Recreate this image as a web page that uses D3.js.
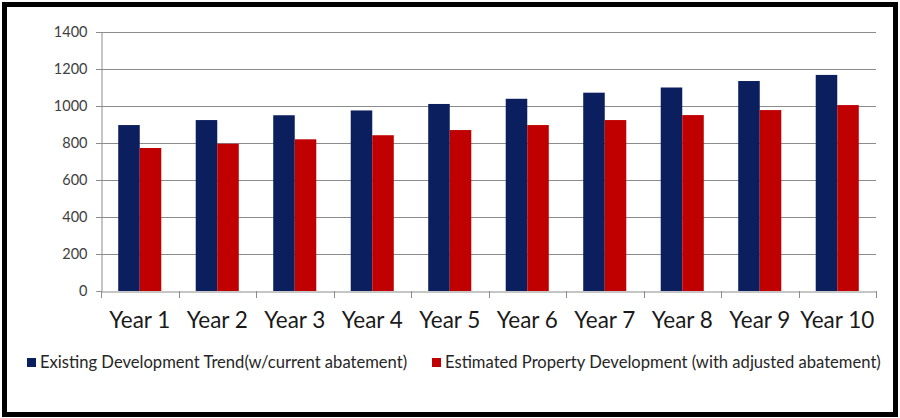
<!DOCTYPE html>
<html lang="en">
<head>
    <meta charset="UTF-8">
    <title>Development Trend</title>
    <script src="https://d3js.org/d3.v7.min.js"></script>
    <style>
        body { margin: 0; background: #fff; }
        text { font-family: Lato, "Open Sans", sans-serif; }
    </style>
</head>
<body>
    <div id="chart"></div>
    <script>
        // Chart data
        const years = ['Year 1', 'Year 2', 'Year 3', 'Year 4', 'Year 5',
                       'Year 6', 'Year 7', 'Year 8', 'Year 9', 'Year 10'];
        const existingTrend = [897, 924, 950, 976, 1011, 1039, 1072, 1100, 1135, 1168];
        const estimatedDev = [773, 796, 820, 842, 870, 897, 924, 951, 978, 1005];
        const seriesNames = ['Existing Development Trend(w/current abatement)',
                             'Estimated Property Development (with adjusted abatement)'];
        const yTicks = [0, 200, 400, 600, 800, 1000, 1200, 1400];

        const width = 900, height = 418;
        const colors = ['#0b1f5f', '#c00000'];

        const svg = d3.select('#chart').append('svg')
            .attr('width', width)
            .attr('height', height);

        // black frame round the whole chart
        svg.append('rect')
            .attr('x', 4.5).attr('y', 4.5)
            .attr('width', 891).attr('height', 410)
            .attr('fill', '#fff')
            .attr('stroke', '#000')
            .attr('stroke-width', 5);

        const plot = { left: 101, right: 876, top: 32, bottom: 291 };

        const x = d3.scaleBand()
            .domain(years)
            .range([plot.left, plot.right]);

        const inner = d3.scaleBand()
            .domain([0, 1])
            .range([0, x.bandwidth()])
            .paddingInner(0)
            .paddingOuter(0.8);

        const y = d3.scaleLinear()
            .domain([0, 1400])
            .range([plot.bottom, plot.top]);

        // gridlines
        svg.append('g')
            .selectAll('line')
            .data(yTicks.filter(d => d > 0))
            .enter().append('line')
            .attr('x1', plot.left - 5).attr('x2', plot.right)
            .attr('y1', d => Math.round(y(d)) + 0.5)
            .attr('y2', d => Math.round(y(d)) + 0.5)
            .attr('stroke', '#8c8c8c')
            .attr('stroke-width', 1);

        // y axis
        const yAxis = svg.append('g')
            .attr('transform', `translate(${plot.left + 0.5},0)`)
            .call(d3.axisLeft(y).tickValues(yTicks).tickFormat(d3.format('d'))
                .tickSize(5).tickPadding(9));
        yAxis.select('.domain').attr('stroke', '#8c8c8c');
        yAxis.selectAll('.tick line').attr('stroke', '#8c8c8c');
        yAxis.selectAll('.tick text')
            .attr('fill', '#404040')
            .style('font-size', '14.5px');

        // bars
        const series = [existingTrend, estimatedDev];
        series.forEach((values, i) => {
            svg.append('g')
                .selectAll('rect')
                .data(values)
                .enter().append('rect')
                .attr('x', (d, j) => x(years[j]) + inner(i))
                .attr('y', d => y(d))
                .attr('width', inner.bandwidth())
                .attr('height', d => y(0) - y(d))
                .attr('fill', colors[i]);
        });

        // x axis
        const xAxis = svg.append('g')
            .attr('transform', `translate(0,${plot.bottom + 0.5})`)
            .call(d3.axisBottom(x).tickSize(0).tickPadding(21));
        xAxis.select('.domain').attr('stroke', '#8c8c8c');
        xAxis.selectAll('.tick text')
            .attr('fill', '#1a1a1a')
            .style('font-size', '22.5px');

        // category boundary ticks
        svg.append('g')
            .selectAll('line')
            .data(years.concat(['end']))
            .enter().append('line')
            .attr('x1', (d, i) => Math.round(plot.left + i * x.step()) + 0.5)
            .attr('x2', (d, i) => Math.round(plot.left + i * x.step()) + 0.5)
            .attr('y1', plot.bottom)
            .attr('y2', plot.bottom + 7)
            .attr('stroke', '#8c8c8c');

        // legend
        const legendX = [27, 432];
        const legend = svg.append('g');
        seriesNames.forEach((name, i) => {
            legend.append('rect')
                .attr('x', legendX[i]).attr('y', 358)
                .attr('width', 9).attr('height', 9)
                .attr('fill', colors[i]);
            legend.append('text')
                .attr('x', legendX[i] + 13)
                .attr('y', 368)
                .attr('fill', '#262626')
                .style('font-size', '16.6px')
                .text(name);
        });
    </script>
</body>
</html>
